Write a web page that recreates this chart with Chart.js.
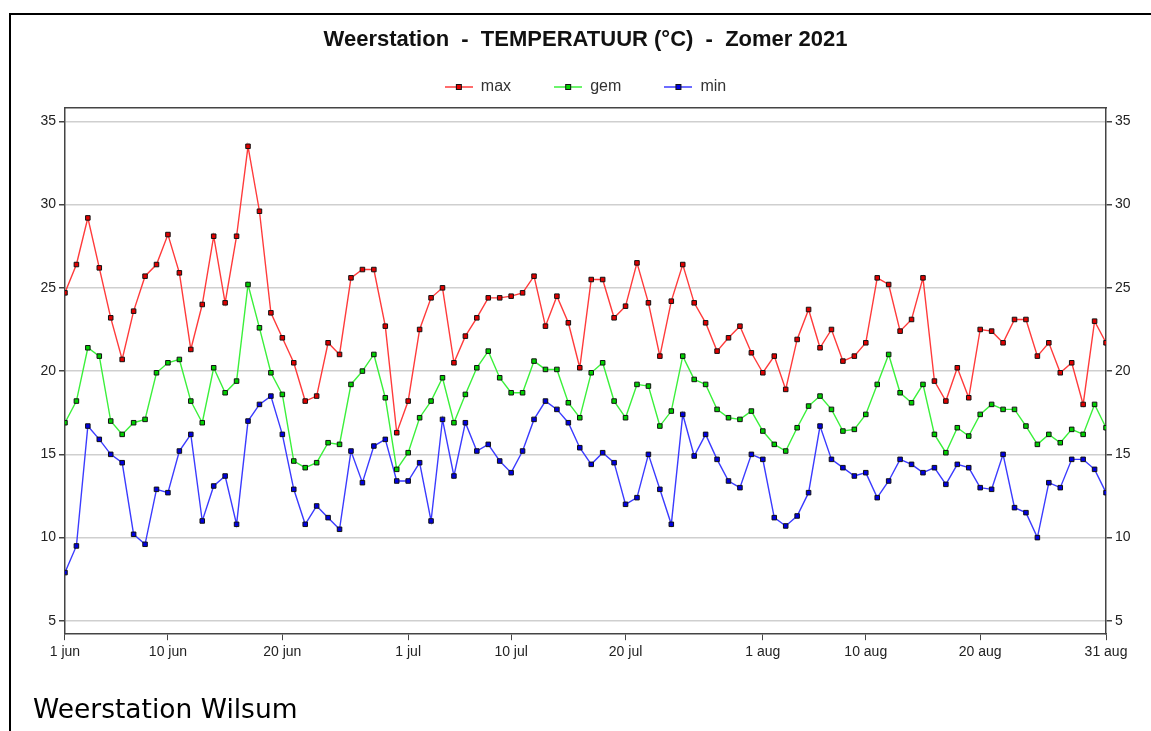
<!DOCTYPE html>
<html>
<head>
<meta charset="utf-8">
<script src="https://cdn.jsdelivr.net/npm/chart.js@4/dist/chart.umd.min.js"></script>
<style>
  html, body { margin: 0; padding: 0; background: #fff; }
  body { width: 1151px; height: 731px; position: relative; overflow: hidden; }
  #frame {
    position: absolute; left: 9px; top: 13px; width: 1150px; height: 760px;
    border-left: 2px solid #000; border-top: 2px solid #000;
  }
  #wrap { position: absolute; left: 0; top: 0; width: 1151px; height: 731px; }
  #station {
    position: absolute; left: 33px; top: 696px;
    font: 26.5px/26px "DejaVu Sans", Verdana, sans-serif; color: #000;
  }
</style>
</head>
<body>
<div id="frame"></div>
<div id="wrap"><canvas id="chart"></canvas></div>
<div id="station">Weerstation Wilsum</div>
<script>
// daily temperatures, 1 jun .. 31 aug 2021 (92 days)
const maxT = [24.7, 26.4, 29.2, 26.2, 23.2, 20.7, 23.6, 25.7, 26.4, 28.2,
  25.9, 21.3, 24.0, 28.1, 24.1, 28.1, 33.5, 29.6, 23.5, 22.0,
  20.5, 18.2, 18.5, 21.7, 21.0, 25.6, 26.1, 26.1, 22.7, 16.3,
  18.2, 22.5, 24.4, 25.0, 20.5, 22.1, 23.2, 24.4, 24.4, 24.5,
  24.7, 25.7, 22.7, 24.5, 22.9, 20.2, 25.5, 25.5, 23.2, 23.9,
  26.5, 24.1, 20.9, 24.2, 26.4, 24.1, 22.9, 21.2, 22.0, 22.7,
  21.1, 19.9, 20.9, 18.9, 21.9, 23.7, 21.4, 22.5, 20.6, 20.9,
  21.7, 25.6, 25.2, 22.4, 23.1, 25.6, 19.4, 18.2, 20.2, 18.4,
  22.5, 22.4, 21.7, 23.1, 23.1, 20.9, 21.7, 19.9, 20.5, 18.0,
  23.0, 21.7];

const gemT = [16.9, 18.2, 21.4, 20.9, 17.0, 16.2, 16.9, 17.1, 19.9, 20.5,
  20.7, 18.2, 16.9, 20.2, 18.7, 19.4, 25.2, 22.6, 19.9, 18.6,
  14.6, 14.2, 14.5, 15.7, 15.6, 19.2, 20.0, 21.0, 18.4, 14.1,
  15.1, 17.2, 18.2, 19.6, 16.9, 18.6, 20.2, 21.2, 19.6, 18.7,
  18.7, 20.6, 20.1, 20.1, 18.1, 17.2, 19.9, 20.5, 18.2, 17.2,
  19.2, 19.1, 16.7, 17.6, 20.9, 19.5, 19.2, 17.7, 17.2, 17.1,
  17.6, 16.4, 15.6, 15.2, 16.6, 17.9, 18.5, 17.7, 16.4, 16.5,
  17.4, 19.2, 21.0, 18.7, 18.1, 19.2, 16.2, 15.1, 16.6, 16.1,
  17.4, 18.0, 17.7, 17.7, 16.7, 15.6, 16.2, 15.7, 16.5, 16.2,
  18.0, 16.6];

const minT = [7.9, 9.5, 16.7, 15.9, 15.0, 14.5, 10.2, 9.6, 12.9, 12.7,
  15.2, 16.2, 11.0, 13.1, 13.7, 10.8, 17.0, 18.0, 18.5, 16.2,
  12.9, 10.8, 11.9, 11.2, 10.5, 15.2, 13.3, 15.5, 15.9, 13.4,
  13.4, 14.5, 11.0, 17.1, 13.7, 16.9, 15.2, 15.6, 14.6, 13.9,
  15.2, 17.1, 18.2, 17.7, 16.9, 15.4, 14.4, 15.1, 14.5, 12.0,
  12.4, 15.0, 12.9, 10.8, 17.4, 14.9, 16.2, 14.7, 13.4, 13.0,
  15.0, 14.7, 11.2, 10.7, 11.3, 12.7, 16.7, 14.7, 14.2, 13.7,
  13.9, 12.4, 13.4, 14.7, 14.4, 13.9, 14.2, 13.2, 14.4, 14.2,
  13.0, 12.9, 15.0, 11.8, 11.5, 10.0, 13.3, 13.0, 14.7, 14.7,
  14.1, 12.7];

const seriesNames = ['max', 'gem', 'min'];
const xTickDays = [0, 9, 19, 30, 39, 49, 61, 70, 80, 91];
const xTickLabels = ['1 jun', '10 jun', '20 jun', '1 jul', '10 jul', '20 jul', '1 aug', '10 aug', '20 aug', '31 aug'];
const yTicks = [5, 10, 15, 20, 25, 30, 35];

const lineColors = ['#ff3b3b', '#3bf03b', '#3b3bff'];
const dotColors = ['#e00000', '#00d000', '#0000e0'];

const toPoints = (arr) => arr.map((v, i) => ({x: i, y: v}));

// small line + square icon, like the original legend
function legendIcon(line, dot) {
    const c = document.createElement('canvas');
    c.width = 28;
    c.height = 8;
    const g = c.getContext('2d');
    g.strokeStyle = line;
    g.lineWidth = 1.5;
    g.beginPath();
    g.moveTo(0, 4);
    g.lineTo(28, 4);
    g.stroke();
    g.fillStyle = '#111';
    g.fillRect(11, 1, 6, 6);
    g.fillStyle = dot;
    g.fillRect(12, 2, 4, 4);
    return c;
}
const icons = lineColors.map((c, i) => legendIcon(c, dotColors[i]));

const tickFont = {family: 'Liberation Sans, Arial, sans-serif', size: 14};
const axisDark = '#444';

const yAxis = (position, grid) => ({
    type: 'linear',
    position: position,
    min: 4.2,
    max: 35.8,
    afterBuildTicks: (axis) => {
        axis.ticks = yTicks.map((v) => ({value: v}));
    },
    ticks: {font: tickFont, color: '#222', padding: 3},
    grid: {
        display: true,
        drawOnChartArea: grid,
        color: '#cfcfcf',
        lineWidth: 1.5,
        tickColor: axisDark,
        tickLength: 6,
    },
    border: {display: true, color: axisDark, width: 1.5},
});

const datasets = [maxT, gemT, minT].map((arr, i) => ({
    label: seriesNames[i],
    data: toPoints(arr),
    xAxisID: 'x',
    yAxisID: 'y',
    borderColor: lineColors[i],
    borderWidth: 1.4,
    tension: 0,
    pointStyle: 'rect',
    pointRadius: 3.2,
    pointBackgroundColor: dotColors[i],
    pointBorderColor: '#111',
    pointBorderWidth: 1,
    fill: false,
}));

new Chart(document.getElementById('chart'), {
    type: 'line',
    data: {datasets: datasets},
    options: {
        responsive: true,
        maintainAspectRatio: false,
        animation: false,
        events: [],
        layout: {padding: {left: 37.4, right: 17.4, top: 0, bottom: 66}},
        scales: {
            x: {
                type: 'linear',
                position: 'bottom',
                min: 0,
                max: 91,
                afterBuildTicks: (axis) => {
                    axis.ticks = xTickDays.map((v) => ({value: v}));
                },
                ticks: {
                    font: tickFont,
                    color: '#222',
                    padding: 4,
                    maxRotation: 0,
                    autoSkip: false,
                    callback: (value) => xTickLabels[xTickDays.indexOf(value)],
                },
                grid: {drawOnChartArea: false, tickColor: axisDark, tickLength: 6},
                border: {display: true, color: axisDark, width: 1.5},
            },
            xTop: {
                type: 'linear',
                position: 'top',
                min: 0,
                max: 91,
                ticks: {display: false},
                grid: {drawOnChartArea: false, tickColor: 'rgba(0,0,0,0)', tickLength: 3},
                border: {display: true, color: axisDark, width: 1.5},
            },
            y: yAxis('left', true),
            y2: yAxis('right', false),
        },
        plugins: {
            title: {
                display: true,
                text: 'Weerstation  -  TEMPERATUUR (°C)  -  Zomer 2021',
                color: '#111',
                font: {family: 'Liberation Sans, Arial, sans-serif', size: 22, weight: 'bold'},
                padding: {top: 27, bottom: 13.6},
            },
            legend: {
                display: true,
                position: 'top',
                labels: {
                    usePointStyle: true,
                    pointStyleWidth: 28,
                    padding: 12,
                    color: '#333',
                    font: {family: 'Liberation Sans, Arial, sans-serif', size: 16},
                    generateLabels: (chart) => chart.data.datasets.map((ds, i) => ({
                        text: i < 2 ? seriesNames[i] + '\u00a0'.repeat(7) : seriesNames[i],
                        pointStyle: icons[i],
                        fillStyle: 'transparent',
                        strokeStyle: 'transparent',
                        lineWidth: 0,
                        fontColor: '#333',
                        hidden: false,
                        datasetIndex: i,
                    })),
                },
            },
            tooltip: {enabled: false},
        },
    },
});
</script>
</body>
</html>
